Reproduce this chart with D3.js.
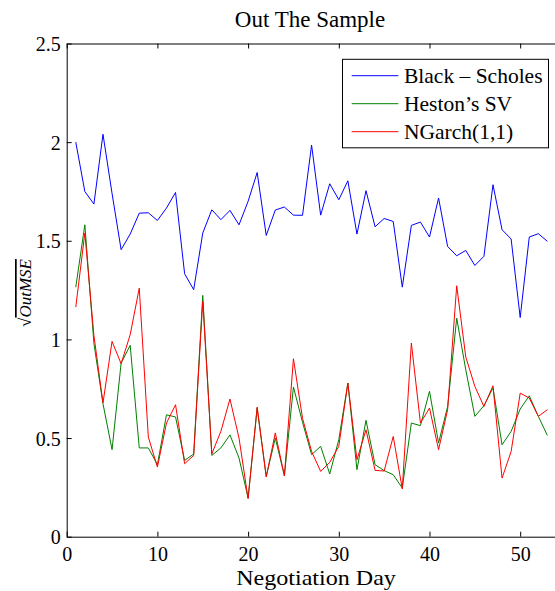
<!DOCTYPE html>
<html>
<head>
<meta charset="utf-8">
<script src="https://cdn.jsdelivr.net/npm/d3@7"></script>
<style>
  html, body { margin: 0; padding: 0; background: #fff; }
  svg { display: block; font-family: "Liberation Serif", "Times New Roman", serif; }
</style>
</head>
<body>
<svg id="chart" width="555" height="591"></svg>
<script>
// Out-of-sample root mean squared error per negotiation day
const days = [1,2,3,4,5,6,7,8,9,10,11,12,13,14,15,16,17,18,19,20,21,22,23,24,25,26,27,
  28,29,30,31,32,33,34,35,36,37,38,39,40,41,42,43,44,45,46,47,48,49,50,51,52,53];

const blackScholes = [2.00,1.75,1.686,2.04,1.74,1.455,1.534,1.64,1.642,1.603,1.666,1.745,1.333,
  1.252,1.539,1.657,1.607,1.654,1.581,1.70,1.846,1.527,1.656,1.671,1.63,1.629,1.985,1.63,1.789,
  1.708,1.804,1.534,1.754,1.571,1.613,1.598,1.265,1.578,1.595,1.519,1.717,1.471,1.424,1.451,
  1.375,1.421,1.784,1.556,1.509,1.111,1.519,1.536,1.497];

const hestonSV = [1.265,1.581,0.98,0.674,0.441,0.88,0.97,0.45,0.45,0.365,0.618,0.607,0.387,0.419,
  1.223,0.412,0.45,0.516,0.399,0.196,0.652,0.306,0.50,0.309,0.759,0.58,0.416,0.458,0.318,0.492,
  0.779,0.34,0.59,0.365,0.335,0.314,0.247,0.576,0.563,0.737,0.475,0.66,1.108,0.846,0.61,0.664,
  0.754,0.466,0.534,0.647,0.714,0.61,0.513];

const ngarch = [1.164,1.539,1.02,0.678,0.99,0.877,1.024,1.26,0.505,0.353,0.576,0.669,0.37,0.412,
  1.193,0.42,0.534,0.698,0.5,0.193,0.657,0.303,0.526,0.309,0.902,0.6,0.432,0.331,0.377,0.458,
  0.779,0.39,0.542,0.336,0.333,0.508,0.242,0.982,0.576,0.652,0.441,0.644,1.272,0.911,0.762,0.66,
  0.765,0.297,0.432,0.728,0.703,0.61,0.644];

const seriesNames = ["Black \u2013 Scholes", "Heston\u2019s SV", "NGarch(1,1)"];
const seriesColors = ["#0000ff", "#008000", "#ff0000"];
const xTicks = [0, 10, 20, 30, 40, 50];
const yTicks = [0, 0.5, 1, 1.5, 2, 2.5];

const svg = d3.select("#chart");
const plotLeft = 66.7, plotTop = 43.5, plotBottom = 536.7;
const plotRight = plotLeft + 55 * 9.07;

const x = d3.scaleLinear().domain([0, 55]).range([plotLeft, plotRight]);
const y = d3.scaleLinear().domain([0, 2.5]).range([plotBottom, plotTop]);

// Lines
const allSeries = [blackScholes, hestonSV, ngarch];
const line = d3.line().x((d, i) => x(days[i])).y(d => y(d));
allSeries.forEach((vals, k) => {
  svg.append("path")
    .datum(vals)
    .attr("d", line)
    .attr("fill", "none")
    .attr("stroke", seriesColors[k])
    .attr("stroke-width", 1);
});

// Axes (ticks point inward)
const tickLen = 5;
const fmtY = d => (d === 0 || d === 1 || d === 2) ? String(d) : d3.format(".1f")(d);
const xAxisB = svg.append("g").attr("transform", `translate(0,${plotBottom})`)
  .call(d3.axisBottom(x).tickValues(xTicks).tickSizeInner(-tickLen).tickSizeOuter(0).tickPadding(10));
const xAxisT = svg.append("g").attr("transform", `translate(0,${plotTop})`)
  .call(d3.axisTop(x).tickValues(xTicks).tickSizeInner(-tickLen).tickSizeOuter(0).tickFormat(""));
const yAxisL = svg.append("g").attr("transform", `translate(${plotLeft},0)`)
  .call(d3.axisLeft(y).tickValues(yTicks).tickSizeInner(-tickLen).tickSizeOuter(0).tickPadding(6).tickFormat(fmtY));
const yAxisR = svg.append("g").attr("transform", `translate(${plotRight},0)`)
  .call(d3.axisRight(y).tickValues(yTicks).tickSizeInner(-tickLen).tickSizeOuter(0).tickFormat(""));

[xAxisB, xAxisT, yAxisL, yAxisR].forEach(g => {
  g.select(".domain").attr("stroke", "#000").attr("stroke-width", 1);
  g.selectAll(".tick line").attr("stroke", "#000");
  g.selectAll("text").attr("font-family", "Liberation Serif, Times New Roman, serif")
    .attr("font-size", 20).attr("fill", "#000");
});
xAxisB.selectAll("text").attr("dy", "0.71em");
yAxisL.selectAll("text").attr("dy", "0.35em");

// Title
svg.append("text").attr("x", 310).attr("y", 26.5)
  .attr("text-anchor", "middle").attr("font-size", 23).text("Out The Sample");

// X label (slightly widened glyphs)
svg.append("text")
  .attr("transform", "translate(316,585) scale(1.12,1)")
  .attr("text-anchor", "middle").attr("font-size", 21.5).text("Negotiation Day");

// Y label: square root over OutMSE
const yl = svg.append("g").attr("transform", "translate(31,293) rotate(-90)");
const ylt = yl.append("text").attr("text-anchor", "middle").attr("font-size", 17).attr("font-style", "italic");
ylt.append("tspan").attr("font-style", "normal").text("\u221A");
ylt.append("tspan").attr("text-decoration", "overline").text("OutMSE");

// Legend
const lg = svg.append("g");
lg.append("rect").attr("x", 342.5).attr("y", 59.3).attr("width", 206).attr("height", 88.5)
  .attr("fill", "#fff").attr("stroke", "#000").attr("stroke-width", 1);
seriesNames.forEach((name, k) => {
  const yy = 75.7 + k * 28;
  lg.append("line").attr("x1", 351.7).attr("x2", 398.3).attr("y1", yy).attr("y2", yy)
    .attr("stroke", seriesColors[k]).attr("stroke-width", 1);
  lg.append("text").attr("x", 404).attr("y", yy).attr("dy", "0.35em")
    .attr("font-size", 21.5).text(name);
});
</script>
</body>
</html>
